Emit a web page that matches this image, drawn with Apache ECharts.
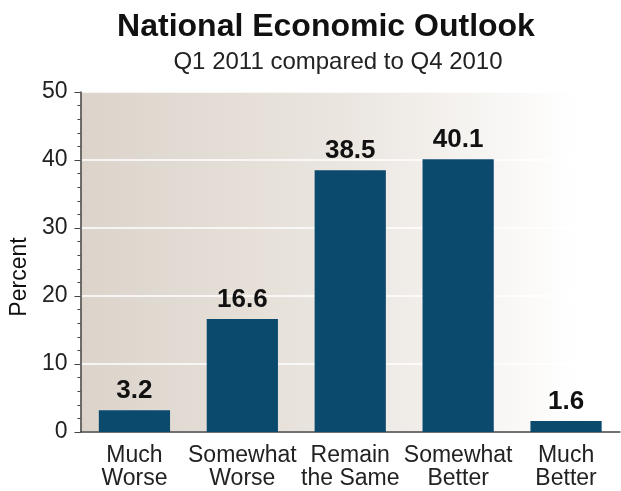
<!DOCTYPE html>
<html>
<head>
<meta charset="utf-8">
<script src="https://cdn.jsdelivr.net/npm/echarts@6/dist/echarts.min.js"></script>
<style>html,body{margin:0;padding:0;background:#fff}#c{width:621px;height:491px}</style>
</head>
<body>
<div id="c"></div>
<script>
var categories = ['Much\nWorse', 'Somewhat\nWorse', 'Remain\nthe Same', 'Somewhat\nBetter', 'Much\nBetter'];
var values = [3.2, 16.6, 38.5, 40.1, 1.6];
var yTicks = [0, 10, 20, 30, 40, 50];

var chart = echarts.init(document.getElementById('c'), null, {renderer: 'canvas'});
chart.setOption({
  animation: false,
  backgroundColor: '#ffffff',
  title: [{
    text: 'National Economic Outlook',
    left: 321, top: 6, textAlign: 'center',
    textStyle: {fontFamily: 'Liberation Sans', fontSize: 32, fontWeight: 'bold', color: '#111'}
  }, {
    text: 'Q1 2011 compared to Q4 2010',
    left: 333, top: 45, textAlign: 'center',
    textStyle: {fontFamily: 'Liberation Sans', fontSize: 24, fontWeight: 'normal', color: '#222'}
  }],
  grid: {
    left: 80, right: 1, top: 92, bottom: 59,
    show: true, borderWidth: 0,
    backgroundColor: new echarts.graphic.LinearGradient(0, 0, 1, 0, [
      {offset: 0, color: '#dcd4cb'},
      {offset: 0.5, color: '#ebe6e0'},
      {offset: 0.92, color: '#ffffff'},
      {offset: 1, color: '#ffffff'}
    ])
  },
  xAxis: {
    type: 'category',
    data: categories,
    axisLine: {lineStyle: {color: '#444', width: 1.5}},
    axisTick: {alignWithLabel: true, length: 6, lineStyle: {color: '#444'}},
    axisLabel: {interval: 0, fontFamily: 'Liberation Sans', fontSize: 23, color: '#222', lineHeight: 23, margin: 12}
  },
  yAxis: {
    type: 'value',
    min: yTicks[0], max: yTicks[yTicks.length - 1], interval: 10,
    name: 'Percent',
    nameLocation: 'middle', nameGap: 47, nameRotate: 90,
    nameTextStyle: {fontFamily: 'Liberation Sans', fontSize: 23, color: '#111', padding: [0, 30, 0, 0]},
    axisLine: {show: true, lineStyle: {color: '#444', width: 1.5}},
    axisTick: {show: true, length: 6, lineStyle: {color: '#444'}},
    minorTick: {show: true, splitNumber: 5, length: 3, lineStyle: {color: '#444'}},
    axisLabel: {fontFamily: 'Liberation Sans', fontSize: 23, color: '#222', margin: 13},
    splitLine: {show: true, lineStyle: {color: '#ffffff', width: 1.5}}
  },
  series: [{
    type: 'bar',
    data: values,
    barWidth: '66%',
    itemStyle: {color: '#0b496d'},
    label: {
      show: true, position: 'top', distance: 6,
      fontFamily: 'Liberation Sans', fontSize: 26, fontWeight: 'bold', color: '#111',
      formatter: function (p) { return p.value.toFixed(1); }
    }
  }]
});
</script>
</body>
</html>
